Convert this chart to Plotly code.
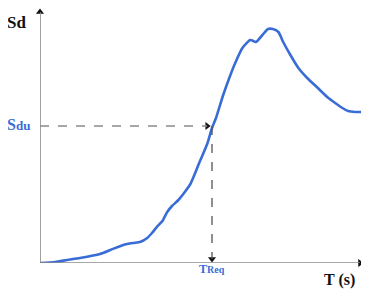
import plotly.graph_objects as go

# Spectral displacement curve (T in s, Sd in arbitrary units)
period = [0, 0.19, 0.34, 0.5, 0.75, 0.88, 1.04, 1.16, 1.25, 1.34, 1.4, 1.46, 1.53, 1.59,
          1.65, 1.73, 1.81, 1.88, 1.94, 2.0, 2.09, 2.15, 2.2, 2.29, 2.38, 2.44, 2.53,
          2.63, 2.7, 2.78, 2.85, 2.91, 2.98, 3.04, 3.13, 3.23, 3.34, 3.46, 3.59, 3.69,
          3.78, 3.85, 3.94, 4.03]
sd = [0, 0.1, 0.3, 0.5, 0.9, 1.3, 1.8, 2.0, 2.1, 2.5, 3.0, 3.6, 4.2, 5.1,
      5.7, 6.3, 7.1, 7.9, 9.0, 10.2, 11.9, 13.5, 14.5, 16.8, 18.8, 20.0, 21.5,
      22.3, 22.1, 22.8, 23.4, 23.4, 23.1, 22.1, 20.8, 19.5, 18.5, 17.6, 16.6, 16.0,
      15.5, 15.2, 15.1, 15.1]
t_req = 2.15
sd_u = 13.7
x_max = 4.05
y_max = 25.5

blue = "#3a6cd6"
gray = "#8a8a8a"
serif = "Liberation Serif, Times New Roman, DejaVu Serif, serif"

fig = go.Figure()
fig.add_trace(go.Scatter(x=period, y=sd, mode="lines",
                         line=dict(color=blue, width=2.6, shape="spline", smoothing=0.6),
                         hoverinfo="skip", showlegend=False))

# axes lines
fig.add_shape(type="line", x0=0, y0=0, x1=x_max - 0.05, y1=0, line=dict(color=gray, width=1.6))
fig.add_shape(type="line", x0=0, y0=0, x1=0, y1=y_max - 0.4, line=dict(color=gray, width=1.6))
# dashed guide lines
fig.add_shape(type="line", x0=0, y0=sd_u, x1=t_req - 0.06, y1=sd_u,
              line=dict(color=gray, width=1.5, dash="dash"))
fig.add_shape(type="line", x0=t_req, y0=sd_u, x1=t_req, y1=0.4,
              line=dict(color="#555555", width=1.3, dash="dash"))

# arrowheads as markers
heads_x = [x_max - 0.05, 0, t_req - 0.06, t_req]
heads_y = [0, y_max - 0.4, sd_u, 0.4]
heads_sym = ["triangle-right", "triangle-up", "triangle-right", "triangle-down"]
fig.add_trace(go.Scatter(x=heads_x, y=heads_y, mode="markers", cliponaxis=False,
                         marker=dict(symbol=heads_sym, size=7, color="#111111"),
                         hoverinfo="skip", showlegend=False))

# labels
def label(text, x, y, size, color, xanchor="center"):
    fig.add_annotation(xref="paper", yref="paper", x=x, y=y, text=text,
                       xanchor=xanchor, yanchor="middle", showarrow=False,
                       borderpad=0,
                       font=dict(family=serif, size=size, color=color))

label("<b>Sd</b>", -0.074, 0.945, 17, "#111111")
label("<b>S<span style='font-size:13px'>du</span></b>", -0.066, 0.545, 16, blue, "center")
label("<b>T<span style='font-size:10px'>Req</span></b>", 0.531, -0.024, 12, blue, "center")
label("<b>T (s)</b>", 0.924, -0.067, 16, "#111111")

# page body has an 8px margin, so the figure is shrunk and shifted accordingly
fig.update_layout(
    width=361, height=284,
    margin=dict(l=32, r=5, t=0, b=29),
    paper_bgcolor="white", plot_bgcolor="white",
    xaxis=dict(range=[0, x_max], visible=False),
    yaxis=dict(range=[0, y_max], visible=False),
)
fig.write_html("out.html")
